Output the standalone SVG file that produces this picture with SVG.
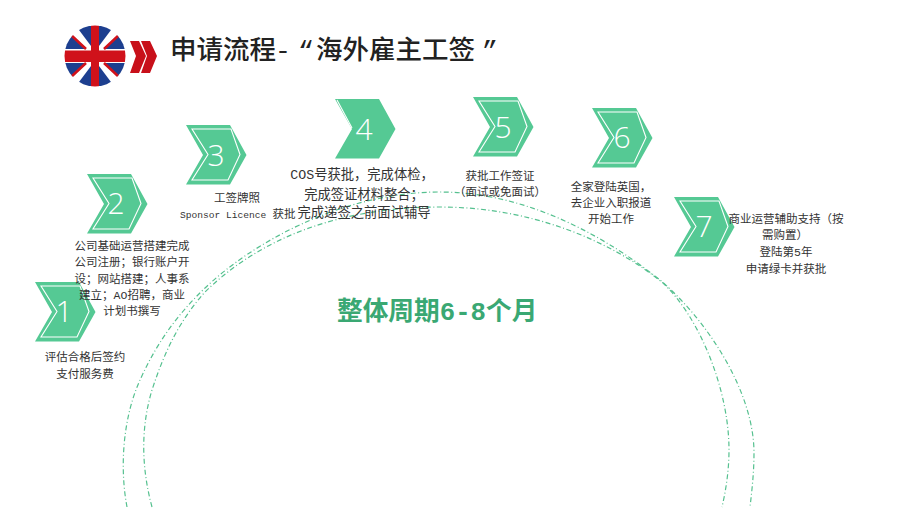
<svg xmlns="http://www.w3.org/2000/svg" width="900" height="509" viewBox="0 0 900 509">
<style>
.t{font-family:"Liberation Mono","Noto Sans CJK SC",monospace;font-size:11.5px;fill:#333;text-anchor:middle}
.t4{font-size:13.3px}
.m{font-family:"Liberation Mono","Noto Sans CJK SC",monospace;font-size:9.6px;fill:#333}
.n{font-family:"Open Sans","Lato",sans-serif;font-weight:300;font-size:30px;fill:#fff;text-anchor:middle}
.arc{fill:none;stroke:#55c08f;stroke-width:1.2;stroke-dasharray:5 2.5 1 2.5}
.chev{fill:#55c994}
.in{fill:none;stroke:#fff;stroke-width:1.1}
.h{font-family:"Liberation Mono","Noto Sans CJK SC",monospace;font-size:26.5px;font-weight:500;fill:#222}
</style>
<defs>
<clipPath id="c"><circle cx="95" cy="56" r="30.5"/></clipPath>
<g id="cv"><path class="chev" d="M0 0H44L60.500 30L44 59.500H0L17 30Z"/></g>
<g id="ci"><path class="in" d="M6 4H45L54 29.500L42 55H6L22 29.500Z"/></g>
</defs>
<rect width="900" height="509" fill="#fff"/>
<g id="flag" clip-path="url(#c)">
<rect x="64" y="25" width="62" height="62" fill="#fff"/>
<path fill="#1d3f8f" d="M76 26L91 26V46ZM99 26H114L99 46ZM64 38L70 33L85 49H64ZM126 38L120 33L105 49H126ZM64 63H85L70 79L64 74ZM126 63H105L120 79L126 74ZM76 86L91 66V86ZM114 86L99 66V86Z"/>
<path stroke="#d0121b" stroke-width="2.600" fill="none" d="M71 35L86 49M119 35L104 49M71 77L86 63M119 77L104 63"/>
<rect x="91" y="25" width="8" height="62" fill="#d0121b"/>
<rect x="64" y="50.500" width="62" height="11.500" fill="#d0121b"/>
</g>
<g id="arrows" fill="#c8101a">
<path d="M130 41H139L146 56L139 73H130L136 56Z"/>
<path d="M141 41H150L157 56L150 73H141L147 56Z"/>
</g>
<g id="title">
<text class="h" x="170" y="59">申请流程</text>
<text class="h" x="275" y="59" font-size="18">-</text>
<text class="h" x="298" y="59">“</text>
<text class="h" x="316" y="59">海外雇主工签</text>
<text class="h" x="482" y="59">”</text>
</g>
<g id="connectors">
<path class="arc" d="M127 507C120 470 122 420 140 380C158 340 180 312 205 288C250 245 340 192 440 192C530 192 610 240 660 280C705 318 754 390 754 453C754 472 752 490 750 507"/>
<path class="arc" d="M152 507C142 470 140 430 152 390C165 350 180 320 205 292C260 238 340 207 440 207C530 207 610 240 663 283C700 318 729 390 729 450C729 470 726 490 722 507"/>
</g>
<g id="center-label">
<text x="337" y="320" font-family="Liberation Mono,Noto Sans CJK SC,monospace" font-size="25.7" font-weight="700" fill="#3aa873">整体周期6-8个月</text>
</g>
<g id="node1">
<use href="#cv" x="35" y="282"/><use href="#ci" x="35" y="282"/>
<text class="n" x="64" y="322">1</text>
<text class="t" x="85" y="361">评估合格后签约</text>
<text class="t" x="85" y="378">支付服务费</text>
</g>
<g id="node2">
<use href="#cv" x="87" y="174"/><use href="#ci" x="87" y="174"/>
<text class="n" x="116" y="214">2</text>
<text class="t" x="132" y="250">公司基础运营搭建完成</text>
<text class="t" x="132" y="266">公司注册；银行账户开</text>
<text class="t" x="132" y="283">设；网站搭建；人事系</text>
<text class="t" x="132" y="299">建立；AO招聘，商业</text>
<text class="t" x="132" y="315">计划书撰写</text>
</g>
<g id="node3">
<use href="#cv" x="186" y="125"/><use href="#ci" x="186" y="125"/>
<text class="n" x="216" y="166">3</text>
<text class="t" x="237" y="202">工签牌照</text>
<text class="m" x="180" y="218">Sponsor Licence</text>
<text class="t" x="284" y="218">获批</text>
</g>
<g id="node4">
<use href="#cv" x="335" y="99"/>
<path class="in" d="M337 100L352 128"/>
<text class="n" x="364" y="140">4</text>
<text class="t t4" x="362" y="179">COS号获批，完成体检，</text>
<text class="t t4" x="364" y="199">完成签证材料整合；</text>
<text class="t t4" x="364" y="217">完成递签之前面试辅导</text>
</g>
<g id="node5">
<use href="#cv" x="473" y="97"/><use href="#ci" x="473" y="97"/>
<text class="n" x="503" y="138">5</text>
<text class="t" x="500" y="180">获批工作签证</text>
<text class="t" x="500" y="196">（面试或免面试）</text>
</g>
<g id="node6">
<use href="#cv" x="592" y="108"/><use href="#ci" x="592" y="108"/>
<text class="n" x="622" y="148">6</text>
<text class="t" x="611" y="191">全家登陆英国，</text>
<text class="t" x="611" y="207">去企业入职报道</text>
<text class="t" x="611" y="223">开始工作</text>
</g>
<g id="node7">
<use href="#cv" x="674" y="197"/><use href="#ci" x="674" y="197"/>
<text class="n" x="704" y="237">7</text>
<text class="t" x="786" y="223">商业运营辅助支持（按</text>
<text class="t" x="785" y="239">需购置）</text>
<text class="t" x="786" y="256">登陆第5年</text>
<text class="t" x="786" y="273">申请绿卡并获批</text>
</g>
</svg>
